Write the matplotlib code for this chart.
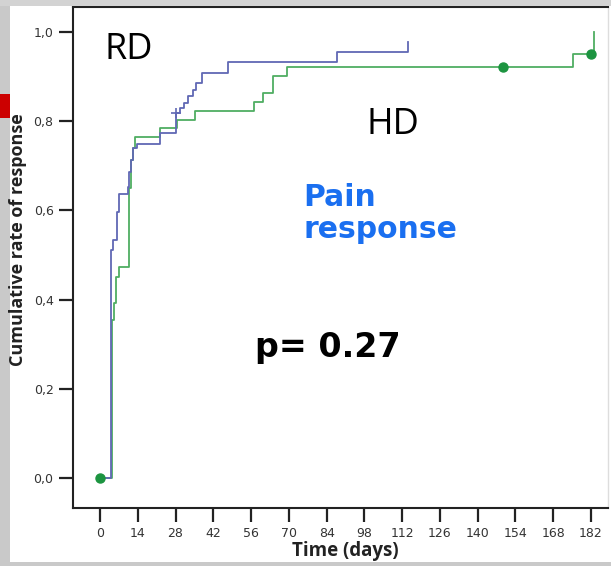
import matplotlib
matplotlib.use("Agg")
import matplotlib.pyplot as plt
from matplotlib.patches import Rectangle

# ---- data ----
rd_days = [0, 4.1, 4.9, 6.2, 7.0, 10.3, 10.7, 11.5, 12.2, 13.6, 22.2, 28.2, 29.7, 31.1,
           32.6, 34.5, 35.6, 37.8, 47.4, 87.8, 114.2]
rd_vals = [0, 0.511, 0.534, 0.596, 0.637, 0.653, 0.686, 0.713, 0.740, 0.750, 0.774, 0.818,
           0.830, 0.841, 0.857, 0.870, 0.886, 0.908, 0.933, 0.955, 0.978]
rd_cens_days = [28.2]
rd_cens_vals = [0.818]

hd_days = [0, 4.3, 5.2, 5.9, 7.0, 10.9, 11.5, 12.2, 13.0, 22.2, 28.4, 35.2, 57.1, 60.4,
           64.1, 69.3, 175.3, 183.1]
hd_vals = [0, 0.354, 0.392, 0.451, 0.473, 0.650, 0.713, 0.740, 0.765, 0.785, 0.803, 0.823,
           0.843, 0.863, 0.901, 0.922, 0.951, 1.0]
hd_cens_days = [0, 149.3, 182.0]
hd_cens_vals = [0, 0.922, 0.951]

x_ticks = [0, 14, 28, 42, 56, 70, 84, 98, 112, 126, 140, 154, 168, 182]
y_ticks = [0.0, 0.2, 0.4, 0.6, 0.8, 1.0]
y_ticklabels = ["0,0", "0,2", "0,4", "0,6", "0,8", "1,0"]

W, H = 611, 566
fig = plt.figure(figsize=(W / 100, H / 100), dpi=100)
fig.patch.set_facecolor("white")

# gray frame / red marker of the slide background
fig.patches.append(Rectangle((0, 0), 10 / W, 1, transform=fig.transFigure,
                             facecolor="#c9c9c9", edgecolor="none", zorder=0))
fig.patches.append(Rectangle((0, 1 - 6 / H), 1, 6 / H, transform=fig.transFigure,
                             facecolor="#d3d3d3", edgecolor="none", zorder=0))
fig.patches.append(Rectangle((0, 0), 1, 4 / H, transform=fig.transFigure,
                             facecolor="#c9c9c9", edgecolor="none", zorder=0))
fig.patches.append(Rectangle((0, 1 - 118 / H), 10 / W, 24 / H, transform=fig.transFigure,
                             facecolor="#cc0000", edgecolor="none", zorder=1))

ax = fig.add_axes([73 / W, (H - 508) / H, (608 - 73) / W, (508 - 7) / H])
ax.set_facecolor("white")

blue = "#6068b4"
green = "#4fae62"
dot = "#1c9440"

ax.step(hd_days, hd_vals, where="post", color=green, lw=1.3, zorder=3)
ax.step(rd_days, rd_vals, where="post", color=blue, lw=1.3, zorder=4)
ax.plot(hd_cens_days, hd_cens_vals, "o", color=dot, ms=6.5, zorder=5)
ax.plot(rd_cens_days, rd_cens_vals, "+", color=blue, ms=7, mew=1.2, zorder=5)

ax.set_xlim(-10, 188.3)
ax.set_ylim(-0.067, 1.056)
ax.set_xticks(x_ticks)
ax.set_yticks(y_ticks)
ax.set_yticklabels(y_ticklabels)
ax.tick_params(axis="both", direction="out", length=10, width=1.6, color="#222222",
               labelsize=9, labelcolor="#333333", pad=4)

for s in ["left", "bottom", "top"]:
    ax.spines[s].set_color("#222222")
    ax.spines[s].set_linewidth(1.5)
ax.spines["right"].set_color("#dddddd")
ax.spines["right"].set_linewidth(1.0)

fig.text(345 / W, 1 - 551 / H, "Time (days)", fontsize=13.5, fontweight="bold",
         family="Open Sans", color="#222222", ha="center", va="center")
fig.text(18.5 / W, 1 - 240 / H, "Cumulative rate of response", fontsize=13,
         fontweight="bold", family="Open Sans", color="#222222", rotation=90,
         ha="center", va="center")

fig.text(105 / W, 1 - 59 / H, "RD", fontsize=26, family="Open Sans", color="black")
fig.text(366 / W, 1 - 134 / H, "HD", fontsize=26, family="Open Sans", color="black")
fig.text(303 / W, 1 - 238 / H, "Pain\nresponse", fontsize=21.5, fontweight="bold",
         family="DejaVu Sans", color="#1a6ff0", linespacing=1.15)
fig.text(255 / W, 1 - 357 / H, "p= 0.27", fontsize=24, fontweight="bold",
         family="DejaVu Sans", color="black")

fig.savefig("out.png", dpi=100)
